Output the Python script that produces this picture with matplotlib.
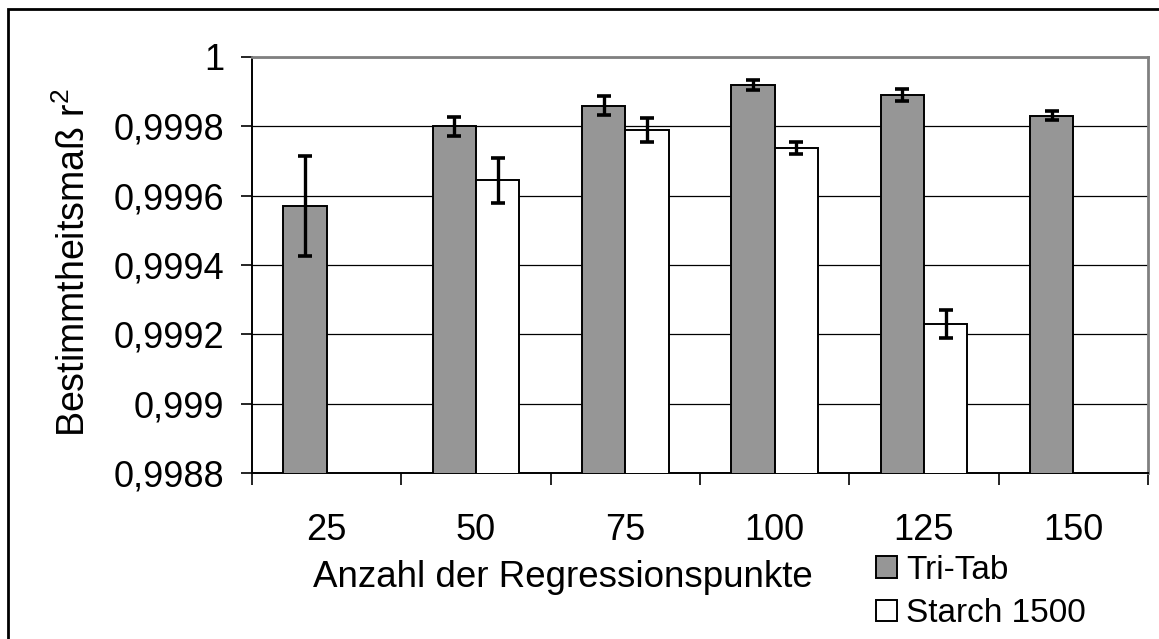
import numpy as np
import matplotlib
matplotlib.use("Agg")
import matplotlib.pyplot as plt
from matplotlib.patches import Rectangle
from matplotlib.ticker import FixedLocator, FuncFormatter

plt.rcParams['font.family'] = ['Liberation Sans', 'DejaVu Sans']

# Daten
punkte = ["25", "50", "75", "100", "125", "150"]
tritab = [0.99957, 0.99980, 0.99986, 0.99992, 0.99989, 0.99983]
tritab_err = [0.000144, 0.000028, 0.000027, 0.000015, 0.000017, 0.000013]
starch = [np.nan, 0.999644, 0.99979, 0.999738, 0.99923, np.nan]
starch_err = [np.nan, 0.000065, 0.000035, 0.000017, 0.000040, np.nan]

W, H = 1159, 639
fig = plt.figure(figsize=(W/100, H/100), dpi=100)
ax = fig.add_axes([252/W, 1 - 473/H, 896/W, 416/H])

x = np.arange(len(punkte)) + 0.5
w = 0.29
errkw = dict(ecolor="black", elinewidth=2.4, capsize=4.8, capthick=2.6)
ax.bar(x - w/2, tritab, w, yerr=tritab_err, color="#969696", edgecolor="black",
       linewidth=1.4, error_kw=errkw, label="Tri-Tab", zorder=3)
ax.bar(x + w/2, starch, w, yerr=starch_err, color="white", edgecolor="black",
       linewidth=1.4, error_kw=errkw, label="Starch 1500", zorder=3)

ax.set_ylim(0.9988, 1.0)
ax.set_xlim(0, 6)
yt = np.round(np.arange(0.9988, 1.00001, 0.0002), 4)
ax.yaxis.set_major_locator(FixedLocator(yt))
ax.yaxis.set_major_formatter(FuncFormatter(lambda v, p: ("%g" % round(v, 4)).replace(".", ",")))
ax.grid(axis="y", color="black", linewidth=0.9, zorder=0)

# x: Striche an den Kategoriegrenzen, Beschriftung in der Mitte
ax.set_xticks(np.arange(0, 7))
ax.set_xticklabels([])
ax.set_xticks(x, minor=True)
ax.set_xticklabels(punkte, minor=True)
ax.tick_params(axis="x", which="major", direction="out", length=8.5, width=1.2)
ax.tick_params(axis="x", which="minor", length=0, pad=28.5, labelsize=26)
ax.tick_params(axis="y", direction="out", length=8, width=1.2, pad=12, labelsize=26)

for s in ["left", "bottom"]:
    ax.spines[s].set_color("black")
    ax.spines[s].set_linewidth(1.4)
for s in ["top", "right"]:
    ax.spines[s].set_color("#808080")
    ax.spines[s].set_linewidth(2)

ax.set_xlabel("Anzahl der Regressionspunkte", fontsize=26.5)
ax.xaxis.set_label_coords(0.3465, -0.21)
ax.set_ylabel("Bestimmtheitsmaß r$^\\mathregular{2}$", fontsize=27)
ax.yaxis.set_label_coords(-0.177, 0.507)

leg = fig.legend(loc="upper left", bbox_to_anchor=(876/W, 1 - 550/H), frameon=False,
                 fontsize=24, handlelength=0.63, handleheight=0.63, handletextpad=0.27,
                 labelspacing=0.38, borderaxespad=0, borderpad=0)

# Legende so verschieben, dass das erste Kästchen oben links bei (876, 556) px liegt
fig.canvas.draw()
bb = leg.legend_handles[0].get_window_extent()
dx = 876 - bb.x0
dy = (H - 556) - bb.y1
leg.set_bbox_to_anchor(((876 + dx)/W, (H - 550 + dy)/H), transform=fig.transFigure)

# Rahmen um das Diagramm (rechts und unten abgeschnitten)
fig.patches.append(Rectangle((8/W, -0.1), 1.2, 1.1 - 9/H, transform=fig.transFigure,
                             fill=False, edgecolor="black", linewidth=2))

fig.savefig("out.png", dpi=100)
